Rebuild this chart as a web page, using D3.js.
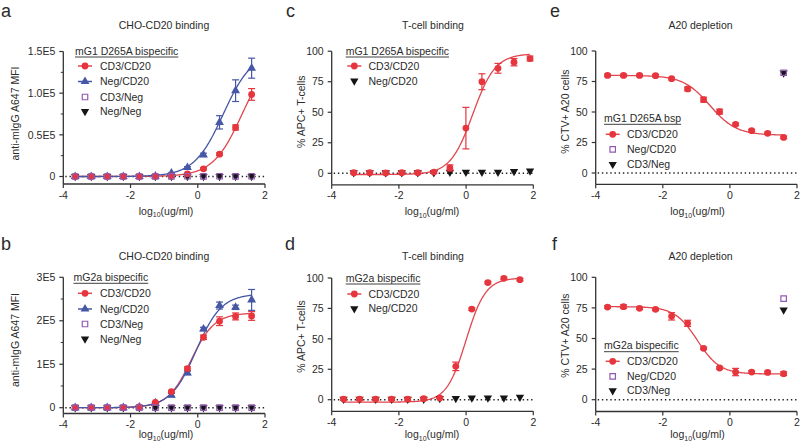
<!DOCTYPE html>
<html><head><meta charset="utf-8">
<script src="https://cdn.jsdelivr.net/npm/d3@7"></script>
<style>
body{margin:0;background:#fff}
text{font-family:"Liberation Sans",Arial,sans-serif;fill:#2b2b2b}
</style>
</head><body>
<svg id="chart" width="800" height="448"></svg>
<script>
// ---------- data ----------
// log10 concentrations (3-fold dilutions from 40 ug/ml and from 80 ug/ml)
const conc40 = [-3.647,-3.170,-2.693,-2.216,-1.738,-1.261,-0.784,-0.307,0.170,0.648,1.125,1.602];
const conc80 = [-3.345,-2.868,-2.391,-1.914,-1.437,-0.960,-0.483,-0.006,0.471,0.949,1.426,1.903];
const xTicks = [-4,-2,0,2];
const xTickLabels = ["-4","-2","0","2"];

// panel a : CHO-CD20 binding, mG1 D265A bispecific
const aCD3CD20    = [0,0,0,0,0,300,800,3200,9200,26800,58800,98500];
const aCD3CD20Err = [0,0,0,0,0,0,0,800,1200,1500,3000,7000];
const aNegCD20    = [0,0,0,0,0,500,4000,10800,26000,65000,103000,130000];
const aNegCD20Err = [0,0,0,0,0,0,500,1000,2000,8000,13000,12000];
const aCD3Neg     = [0,0,0,0,0,0,200,300,200,300,200,300];
const aNegNeg     = [0,0,0,0,0,0,100,200,100,200,100,200];
const aFitCD3CD20 = [0,150000,1.32,1.0];   // bottom, top, logEC50, hill
const aFitNegCD20 = [0,150000,0.76,1.0];
const aYTicks = [0,50000,100000,150000];
const aYTickLabels = ["0","0.5E5","1.0E5","1.5E5"];
const aYMinor = [25000,75000,125000];

// panel b : CHO-CD20 binding, mG2a bispecific
const bCD3CD20    = [0,0,0,0,2000,12000,37000,90000,162000,199000,210000,211000];
const bCD3CD20Err = [0,0,0,0,0,1500,2500,4000,5000,10000,8000,10000];
const bNegCD20    = [0,0,0,0,1500,11000,29000,80000,181000,235000,231000,248000];
const bNegCD20Err = [0,0,0,0,0,1500,4000,4000,4000,8000,5000,24000];
const bCD3Neg     = [0,0,0,0,0,0,0,0,0,0,0,0];
const bNegNeg     = [0,0,0,0,0,0,0,0,0,0,0,0];
const bFitCD3CD20 = [0,218000,-0.2,1.25];
const bFitNegCD20 = [0,262000,-0.05,1.15];
const bYTicks = [0,100000,200000,300000];
const bYTickLabels = ["0","1E5","2E5","3E5"];
const bYMinor = [50000,150000,250000];

// panel c : T-cell binding, mG1 D265A bispecific
const cCD3CD20    = [0.5,0.5,0.3,0.5,0.5,1,4.4,37,75,86,91,94];
const cCD3CD20Err = [1,1,1,1,1,1,2.5,17,6.5,4,3,2];
const cNegCD20    = [0.5,0.5,0.5,0.5,0.5,0.5,1,1,1,1,1.5,2];
const cFitCD3CD20 = [-1,98,0.2,1.3];

// panel d : T-cell binding, mG2a bispecific
const dCD3CD20    = [0.5,0.5,0.5,0.5,0.5,0.8,1.4,27.4,74.5,96.2,99.7,98.6];
const dCD3CD20Err = [1,1,1,1,1,1,0.5,3.5,1,1,1,1];
const dNegCD20    = [0.5,0.5,0.5,0.5,0.5,0.5,1,1,1.5,1.5,1.5,2];
const dFitCD3CD20 = [-2,100,0,1.5];

// panel e : A20 depletion, mG1 D265A bsp
const eCD3CD20    = [80,80,80,79.8,77.3,68.9,60.1,50.3,39.9,34.7,32.5,29.2];
const eCD3CD20Err = [1,1,1,1,1,1.5,2,2,1,1,1,1];
const eNegCD20    = [82.2];
const eCD3Neg     = [82];
const eFitCD3CD20 = [31,80,-0.6,-1.1];

// panel f : A20 depletion, mG2a bispecific
const fCD3CD20    = [75.7,76,74.7,73.8,68.1,62.4,42,25.9,22.6,22.6,22.3,21.3];
const fCD3CD20Err = [1,1.5,1,1,3,2.5,1,1,3,1,1,1.5];
const fNegCD20    = [82.6];
const fCD3Neg     = [73.3];
const fFitCD3CD20 = [21,76,-0.97,-1.3];

const pctTicks = [0,25,50,75,100];
const pctTickLabels = ["0","25","50","75","100"];
const lastConc = [1.602];

// ---------- styles ----------
const RED = "#e6353c", RED_LINE = "#e0474f", BLUE = "#4657a6", PURPLE = "#9259b3", BLACK = "#151515";
const drawRank = {triDown:0, triUp:1, circle:2, square:3};

const svg = d3.select("#chart");

function fourPL(p, x){ // GraphPad 4PL: Y=Bottom+(Top-Bottom)/(1+10^((LogEC50-X)*Hill))
  return p[0] + (p[1]-p[0])/(1+Math.pow(10,(p[2]-x)*p[3]));
}

function symbolPath(shape){
  if(shape==="circle") return d3.symbol(d3.symbolCircle, 36)();
  if(shape==="triUp") return d3.symbol(d3.symbolTriangle, 34)();
  if(shape==="triDown") return d3.symbol(d3.symbolTriangle, 30)();
  if(shape==="square") return d3.symbol(d3.symbolSquare, 30)();
}
function drawMarker(g, shape, color, x, y){
  const p = g.append("path").attr("d", symbolPath(shape))
    .attr("transform", `translate(${x},${y})` + (shape==="triDown"?" rotate(180)":""));
  if(shape==="square") p.attr("fill","none").attr("stroke",color).attr("stroke-width",1.2);
  else p.attr("fill",color);
}

function drawPanel(cfg){
  const g = svg.append("g");
  const x = d3.scaleLinear().domain([-4,2]).range([cfg.x0,cfg.x1]);
  const y = d3.scaleLinear().domain([0,cfg.yMax]).range([cfg.zero,cfg.top]);
  const axisColor = "#333";
  // y axis
  g.append("line").attr("x1",cfg.x0).attr("x2",cfg.x0).attr("y1",cfg.top).attr("y2",cfg.bottom)
    .attr("stroke",axisColor).attr("stroke-width",1.3);
  cfg.yTicks.forEach((t,i)=>{
    g.append("line").attr("x1",cfg.x0-4).attr("x2",cfg.x0).attr("y1",y(t)).attr("y2",y(t))
      .attr("stroke",axisColor).attr("stroke-width",1.2);
    g.append("text").attr("x",cfg.x0-8).attr("y",y(t)).attr("dy","0.35em")
      .attr("text-anchor","end").attr("font-size",10.5).text(cfg.yTickLabels[i]);
  });
  (cfg.yMinor||[]).forEach(t=>{
    g.append("line").attr("x1",cfg.x0-2.5).attr("x2",cfg.x0).attr("y1",y(t)).attr("y2",y(t))
      .attr("stroke",axisColor).attr("stroke-width",1);
  });
  // x axis
  g.append("line").attr("x1",cfg.x0).attr("x2",cfg.x1).attr("y1",cfg.bottom).attr("y2",cfg.bottom)
    .attr("stroke",axisColor).attr("stroke-width",1.3);
  xTicks.forEach((t,i)=>{
    g.append("line").attr("x1",x(t)).attr("x2",x(t)).attr("y1",cfg.bottom).attr("y2",cfg.bottom+4)
      .attr("stroke",axisColor).attr("stroke-width",1.2);
    g.append("text").attr("x",x(t)).attr("y",cfg.bottom+14.5).attr("text-anchor","middle")
      .attr("font-size",10.5).text(xTickLabels[i]);
  });
  // x label
  const xl = g.append("text").attr("x",cfg.xLabel[0]).attr("y",cfg.xLabel[1])
    .attr("text-anchor","middle").attr("font-size",10.5);
  xl.append("tspan").text("log");
  xl.append("tspan").attr("font-size",7).attr("dy",2.5).text("10");
  xl.append("tspan").attr("dy",-2.5).text("(ug/ml)");
  // y label
  g.append("text").attr("transform",`translate(${cfg.yLabel[0]},${cfg.yLabel[1]}) rotate(-90)`)
    .attr("text-anchor","middle").attr("dy","0.35em").attr("font-size",10.5).text(cfg.yLabelText);
  // title
  g.append("text").attr("x",cfg.title[0]).attr("y",cfg.title[1]).attr("text-anchor","middle")
    .attr("font-size",10.5).text(cfg.titleText);
  // panel letter
  g.append("text").attr("x",cfg.letter[0]).attr("y",cfg.letter[1]).attr("font-size",18)
    .attr("fill","#222").text(cfg.letterText);
  // dotted zero line
  g.append("line").attr("x1",cfg.x0+2).attr("x2",cfg.x1).attr("y1",y(0)).attr("y2",y(0))
    .attr("stroke","#222").attr("stroke-width",1.4).attr("stroke-dasharray","1.4,2.8");
  // fit curves
  cfg.series.filter(s=>s.fit).forEach(s=>{
    const xs = d3.range(s.xs[0], s.xs[s.xs.length-1]+0.001, 0.02);
    const line = d3.line().x(d=>x(d)).y(d=>y(fourPL(s.fit,d)));
    g.append("path").attr("d",line(xs)).attr("fill","none")
      .attr("stroke",s.lineColor||s.color).attr("stroke-width",1.3);
  });
  // points + error bars (drawn in Prism-like stacking order)
  const ordered = cfg.series.slice().sort((a,b)=>drawRank[a.shape]-drawRank[b.shape]);
  ordered.forEach(s=>{
    s.values.forEach((v,i)=>{
      const cx = x(s.xs[i]), cy = y(v);
      if(s.err && s.err[i]>0){
        const e = s.err[i];
        const y1 = y(v+e), y2 = y(v-e);
        g.append("line").attr("x1",cx).attr("x2",cx).attr("y1",y1).attr("y2",y2)
          .attr("stroke",s.color).attr("stroke-width",1.2);
        [y1,y2].forEach(yy=>g.append("line").attr("x1",cx-3.5).attr("x2",cx+3.5)
          .attr("y1",yy).attr("y2",yy).attr("stroke",s.color).attr("stroke-width",1.2));
      }
      drawMarker(g, s.shape, s.color, cx, cy);
    });
  });
  // legend
  const L = cfg.legend;
  const lt = g.append("text").attr("x",L.x).attr("y",L.titleY).attr("dy","0.35em")
    .attr("font-size",10.5).text(L.title);
  const w = lt.node().getComputedTextLength();
  g.append("line").attr("x1",L.x).attr("x2",L.x+w).attr("y1",L.titleY+6).attr("y2",L.titleY+6)
    .attr("stroke","#2b2b2b").attr("stroke-width",0.9);
  cfg.series.forEach((s,i)=>{
    const yy = L.itemY[i];
    if(s.fit) g.append("line").attr("x1",L.mx-7).attr("x2",L.mx+7).attr("y1",yy).attr("y2",yy)
      .attr("stroke",s.lineColor||s.color).attr("stroke-width",1.5);
    drawMarker(g, s.shape, s.color, L.mx, yy);
    g.append("text").attr("x",L.tx).attr("y",yy).attr("dy","0.35em").attr("font-size",10.5).text(s.name);
  });
}

const mfiLabel = "anti-mIgG A647 MFI";
const tcLabel = "% APC+ T-cells";
const a20Label = "% CTV+ A20 cells";

drawPanel({letterText:"a", letter:[1,17], titleText:"CHO-CD20 binding", title:[164,29],
  x0:63.3, x1:265, zero:176.5, top:51.5, yMax:150000, bottom:184,
  yTicks:aYTicks, yTickLabels:aYTickLabels, yMinor:aYMinor,
  xLabel:[166,214.5], yLabel:[15,113.5], yLabelText:mfiLabel,
  legend:{title:"mG1 D265A bispecific", x:75, titleY:51, itemY:[66,81.5,97,111.5], mx:85, tx:100},
  series:[
    {name:"CD3/CD20", xs:conc40, values:aCD3CD20, err:aCD3CD20Err, color:RED, lineColor:RED_LINE, shape:"circle", fit:aFitCD3CD20},
    {name:"Neg/CD20", xs:conc40, values:aNegCD20, err:aNegCD20Err, color:BLUE, shape:"triUp", fit:aFitNegCD20},
    {name:"CD3/Neg", xs:conc40, values:aCD3Neg, color:PURPLE, shape:"square"},
    {name:"Neg/Neg", xs:conc40, values:aNegNeg, color:BLACK, shape:"triDown"}
  ]});

drawPanel({letterText:"b", letter:[1,250], titleText:"CHO-CD20 binding", title:[164,260],
  x0:63.3, x1:265, zero:407.7, top:277.3, yMax:300000, bottom:413.5,
  yTicks:bYTicks, yTickLabels:bYTickLabels, yMinor:bYMinor,
  xLabel:[166,438], yLabel:[15,340], yLabelText:mfiLabel,
  legend:{title:"mG2a bispecific", x:73.5, titleY:277.3, itemY:[293.3,309,324,339], mx:85, tx:100},
  series:[
    {name:"CD3/CD20", xs:conc40, values:bCD3CD20, err:bCD3CD20Err, color:RED, lineColor:RED_LINE, shape:"circle", fit:bFitCD3CD20},
    {name:"Neg/CD20", xs:conc40, values:bNegCD20, err:bNegCD20Err, color:BLUE, shape:"triUp", fit:bFitNegCD20},
    {name:"CD3/Neg", xs:conc40, values:bCD3Neg, color:PURPLE, shape:"square"},
    {name:"Neg/Neg", xs:conc40, values:bNegNeg, color:BLACK, shape:"triDown"}
  ]});

drawPanel({letterText:"c", letter:[286,17], titleText:"T-cell binding", title:[433,29],
  x0:331.7, x1:533.3, zero:173.3, top:51.2, yMax:100, bottom:184.8,
  yTicks:pctTicks, yTickLabels:pctTickLabels,
  xLabel:[432,215], yLabel:[301.7,111.7], yLabelText:tcLabel,
  legend:{title:"mG1 D265A bispecific", x:345.7, titleY:51, itemY:[66,81], mx:354.3, tx:368.5},
  series:[
    {name:"CD3/CD20", xs:conc80, values:cCD3CD20, err:cCD3CD20Err, color:RED, lineColor:RED_LINE, shape:"circle", fit:cFitCD3CD20},
    {name:"Neg/CD20", xs:conc80, values:cNegCD20, color:BLACK, shape:"triDown"}
  ]});

drawPanel({letterText:"d", letter:[285,250], titleText:"T-cell binding", title:[433,260],
  x0:331.7, x1:533.3, zero:399.7, top:278, yMax:100, bottom:411.3,
  yTicks:pctTicks, yTickLabels:pctTickLabels,
  xLabel:[432,438], yLabel:[301.7,336.5], yLabelText:tcLabel,
  legend:{title:"mG2a bispecific", x:345.7, titleY:278, itemY:[294,308.7], mx:354.3, tx:368.5},
  series:[
    {name:"CD3/CD20", xs:conc40, values:dCD3CD20, err:dCD3CD20Err, color:RED, lineColor:RED_LINE, shape:"circle", fit:dFitCD3CD20},
    {name:"Neg/CD20", xs:conc40, values:dNegCD20, color:BLACK, shape:"triDown"}
  ]});

drawPanel({letterText:"e", letter:[550,17], titleText:"A20 depletion", title:[700.5,29],
  x0:595.7, x1:797, zero:173, top:51, yMax:100, bottom:184.3,
  yTicks:pctTicks, yTickLabels:pctTickLabels,
  xLabel:[697.5,215], yLabel:[565,111.7], yLabelText:a20Label,
  legend:{title:"mG1 D265A bsp", x:604, titleY:118.3, itemY:[134.3,149.3,164.3], mx:612.7, tx:627},
  series:[
    {name:"CD3/CD20", xs:conc40, values:eCD3CD20, err:eCD3CD20Err, color:RED, lineColor:RED_LINE, shape:"circle", fit:eFitCD3CD20},
    {name:"Neg/CD20", xs:lastConc, values:eNegCD20, color:PURPLE, shape:"square"},
    {name:"CD3/Neg", xs:lastConc, values:eCD3Neg, color:BLACK, shape:"triDown"}
  ]});

drawPanel({letterText:"f", letter:[552,250], titleText:"A20 depletion", title:[700.5,260],
  x0:595.7, x1:797, zero:399.7, top:277.3, yMax:100, bottom:411.5,
  yTicks:pctTicks, yTickLabels:pctTickLabels,
  xLabel:[697.5,438], yLabel:[565,335.7], yLabelText:a20Label,
  legend:{title:"mG2a bispecific", x:604, titleY:345.7, itemY:[361.3,376.3,390.7], mx:612.7, tx:627},
  series:[
    {name:"CD3/CD20", xs:conc40, values:fCD3CD20, err:fCD3CD20Err, color:RED, lineColor:RED_LINE, shape:"circle", fit:fFitCD3CD20},
    {name:"Neg/CD20", xs:lastConc, values:fNegCD20, color:PURPLE, shape:"square"},
    {name:"CD3/Neg", xs:lastConc, values:fCD3Neg, color:BLACK, shape:"triDown"}
  ]});
</script>
</body></html>
